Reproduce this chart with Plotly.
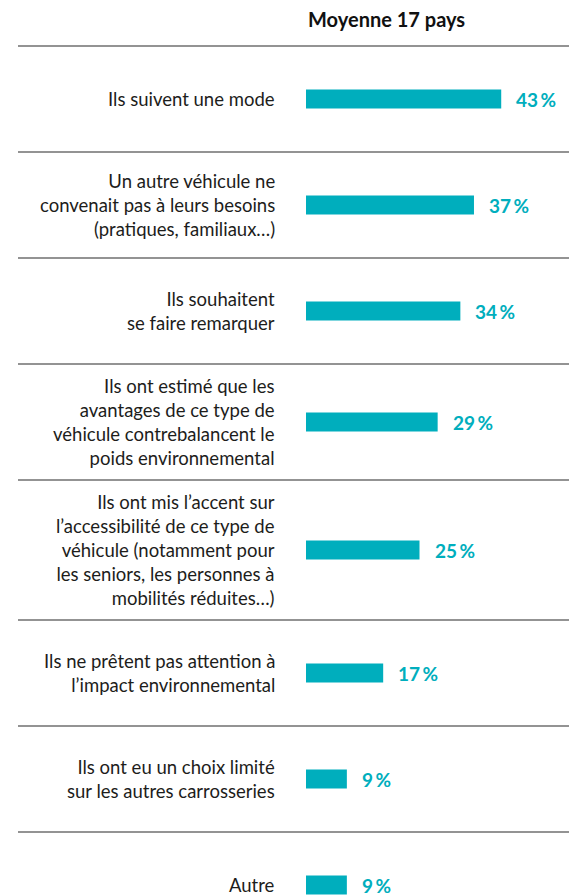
import plotly.graph_objects as go

# ---- data ----
categories = [
    "Ils suivent une mode",
    "Un autre véhicule ne<br>convenait pas à leurs besoins<br>(pratiques, familiaux…)",
    "Ils souhaitent<br>se faire remarquer",
    "Ils ont estimé que les<br>avantages de ce type de<br>véhicule contrebalancent le<br>poids environnemental",
    "Ils ont mis l’accent sur<br>l’accessibilité de ce type de<br>véhicule (notamment pour<br>les seniors, les personnes à<br>mobilités réduites…)",
    "Ils ne prêtent pas attention à<br>l’impact environnemental",
    "Ils ont eu un choix limité<br>sur les autres carrosseries",
    "Autre",
]
values = [43, 37, 34, 29, 25, 17, 9, 9]
value_labels = ["43\u2009%", "37\u2009%", "34\u2009%", "29\u2009%", "25\u2009%", "17\u2009%", "9\u2009%", "9\u2009%"]
header = "Moyenne 17 pays"

# ---- layout geometry (pixels, relative to the figure, which the page offsets by 8px) ----
W, H = 577, 896
bar_x0 = 298          # pixel x of value 0
px_per_unit = 4.54
top = 38              # first separator
teal = "#00AEBD"
text_col = "#1d1d1b"
line_col = "#6f6f6f"
font_family = "Lato, 'Open Sans', sans-serif"

# row heights from number of text lines
heights = []
for c in categories:
    n = c.count("<br>") + 1
    heights.append(max(106, 24 * n + 20))

bounds = [top]
for h in heights:
    bounds.append(bounds[-1] + h)
centers = [(bounds[i] + bounds[i + 1]) / 2 for i in range(len(heights))]

fig = go.Figure()
fig.add_trace(go.Bar(
    x=values, y=centers, orientation="h", width=19,
    marker=dict(color=teal, line=dict(width=0)),
    hoverinfo="skip",
))

annotations = []
for c, yc in zip(categories, centers):
    annotations.append(dict(
        x=0, y=yc, xref="x", yref="y", text=c, showarrow=False,
        xanchor="right", yanchor="middle", align="right", xshift=-29,
        font=dict(family=font_family, size=18.5, color=text_col),
    ))
for v, lab, yc in zip(values, value_labels, centers):
    annotations.append(dict(
        x=v, y=yc, xref="x", yref="y", text="<b>" + lab + "</b>",
        showarrow=False, xanchor="left", yanchor="middle", xshift=13,
        font=dict(family=font_family, size=19, color=teal),
    ))
annotations.append(dict(
    x=0, y=11, xref="x", yref="y", text="<b>" + header + "</b>", showarrow=False,
    xanchor="left", yanchor="middle", xshift=0,
    font=dict(family=font_family, size=20, color="#111111"),
))

shapes = []
for b in bounds[:-1]:
    shapes.append(dict(
        type="line", xref="paper", yref="y", x0=10 / W, x1=1, y0=b, y1=b,
        line=dict(color=line_col, width=1.6),
    ))

fig.update_layout(
    width=W, height=H,
    margin=dict(l=0, r=0, t=0, b=0),
    paper_bgcolor="white", plot_bgcolor="white",
    showlegend=False,
    xaxis=dict(range=[-bar_x0 / px_per_unit, (W - bar_x0) / px_per_unit],
               visible=False, fixedrange=True),
    yaxis=dict(range=[H, 0], visible=False, fixedrange=True),
    annotations=annotations,
    shapes=shapes,
)

fig.write_html("out.html")
